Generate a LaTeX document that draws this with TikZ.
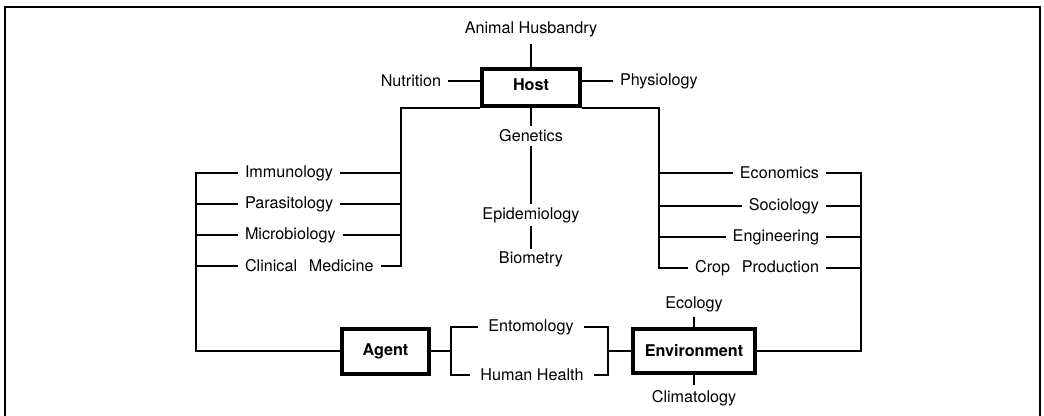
\documentclass[tikz,border=0pt]{standalone}
\usepackage{fontspec}
\setmainfont{TeX Gyre Heros}
\usepackage{tikz}

\begin{document}
\begin{tikzpicture}[x=0.6pt,y=-0.6pt,
  field/.style={inner sep=4pt,font=\fontsize{9.7}{11}\selectfont},
  factor/.style={draw=black,line width=2.4pt,inner sep=0pt,font=\fontsize{9.7}{11}\selectfont\bfseries},
  link/.style={line width=0.9pt}]
\useasboundingbox (0,0) rectangle (1044,416);
\draw[line width=1.6pt] (5,416) -- (5,7) -- (1040,7) -- (1040,416);

\node[factor,minimum width=58.8pt,minimum height=22.2pt,text depth=4pt] (host) at (531,87.5) {Host};
\node[factor,minimum width=52.2pt,minimum height=27pt] (agent) at (385.5,351) {Agent};
\node[factor,minimum width=73.2pt,minimum height=26.4pt] (env) at (694,351) {Environment};

\node[field] (anim) at (531,29) {Animal Husbandry};
\node[field,anchor=east] (nutr) at (448,81) {Nutrition};
\node[field,anchor=west] (phys) at (613,81) {Physiology};
\node[field,inner sep=2pt] (gen) at (531,136) {Genetics};
\node[field,inner sep=2pt] (epi) at (531,215) {Epidemiology};
\node[field,inner sep=1pt] (bio) at (531,259) {Biometry};

\node[field,anchor=west] (imm) at (238,173) {Immunology};
\node[field,anchor=west] (para) at (238,204) {Parasitology};
\node[field,anchor=west] (micro) at (238,235) {Microbiology};
\node[field,anchor=west] (clin) at (238,266) {Clinical\hspace{0.45em} Medicine};

\node[field,anchor=east] (econ) at (826,173) {Economics};
\node[field,anchor=east] (soc) at (826,206) {Sociology};
\node[field,anchor=east] (eng) at (826,237) {Engineering};
\node[field,anchor=east] (crop) at (826,268) {Crop\hspace{0.45em} Production};

\node[field,inner sep=6pt] (ento) at (531,327) {Entomology};
\node[field,inner sep=6pt] (hh) at (532,375) {Human Health};
\node[field,inner sep=3pt] (eco) at (694,304) {Ecology};
\node[field,inner sep=3pt] (clim) at (694,398) {Climatology};

\coordinate (lb) at (401,266);
\coordinate (rb) at (659,268);
\coordinate (lo) at (196,173);
\coordinate (ro) at (861,173);
\coordinate (am) at (451,351);
\coordinate (em) at (608,351);

\draw[link] (anim) -- (host);
\draw[link] (nutr.east) -- (nutr.east -| host.west);
\draw[link] (phys.west -| host.east) -- (phys.west);
\draw[link] (host) -- (gen);
\draw[link] (gen) -- (epi);
\draw[link] (epi) -- (bio);

\draw[link] (host.south west) -| (lb) -- (clin.east);
\draw[link] (imm.east) -- (imm.east -| lb);
\draw[link] (para.east) -- (para.east -| lb);
\draw[link] (micro.east) -- (micro.east -| lb);

\draw[link] (host.south east) -| (rb) -- (crop.west);
\draw[link] (econ.west) -- (econ.west -| rb);
\draw[link] (soc.west) -- (soc.west -| rb);
\draw[link] (eng.west) -- (eng.west -| rb);

\draw[link] (agent.west) -| (lo) -- (imm.west);
\draw[link] (para.west) -- (para.west -| lo);
\draw[link] (micro.west) -- (micro.west -| lo);
\draw[link] (clin.west) -- (clin.west -| lo);

\draw[link] (env.east) -| (ro) -- (econ.east);
\draw[link] (soc.east) -- (soc.east -| ro);
\draw[link] (eng.east) -- (eng.east -| ro);
\draw[link] (crop.east) -- (crop.east -| ro);

\draw[link] (agent) -- (am);
\draw[link] (ento.west) -| (am) |- (hh.west);
\draw[link] (ento.east) -| (em) |- (hh.east);
\draw[link] (em) -- (env);
\draw[link] (eco) -- (env);
\draw[link] (env) -- (clim);
\end{tikzpicture}
\end{document}
